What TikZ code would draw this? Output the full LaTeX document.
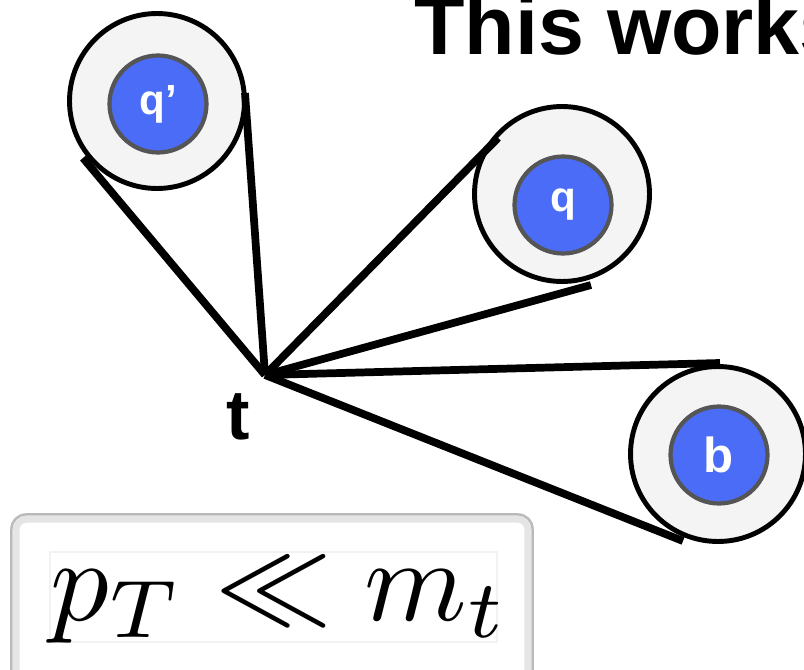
\documentclass[tikz,border=0pt]{standalone}
\usepackage{fontspec}
\setmainfont{Liberation Sans}
\definecolor{coreblue}{RGB}{74,108,246}
\definecolor{ringgray}{RGB}{244,244,244}
\definecolor{edgegray}{RGB}{85,85,85}
\begin{document}
\begin{tikzpicture}[x=0.02cm, y=-0.02cm,
    ring/.style={circle, draw=black, fill=ringgray, line width=2.8pt, minimum size=3.5cm, inner sep=0pt},
    core/.style={circle, draw=edgegray, fill=coreblue, line width=2.4pt, minimum size=1.94cm, inner sep=0pt,
        text=white, font=\bfseries\fontsize{24}{24}\selectfont},
    spoke/.style={line width=4.4pt, line cap=butt}]
    % Frame (pixel units, y downwards)
    \useasboundingbox (0, 0) rectangle (804, 669);
    \clip (0, 0) rectangle (804, 669);

    % Title
    \node[anchor=base west, inner sep=0pt, font=\bfseries\fontsize{47}{47}\selectfont] (title) at (414, 55) {This works};

    % Jets: outer cone ring with parton inside
    \node[ring] (ringqp) at (157, 101) {};
    \node[core] (qp) at (158, 104) {q'};
    \node[ring] (ringq) at (562, 194) {};
    \node[core] (q) at (563, 205) {q};
    \node[ring] (ringb) at (718, 454) {};
    \node[core, font=\bfseries\fontsize{28}{28}\selectfont] (b) at (719, 455) {b};

    % Top vertex and cone edges
    \coordinate (t) at (265, 375);
    \node[font=\bfseries\fontsize{40}{40}\selectfont, inner sep=0pt] (tlab) at (238, 417) {t};
    \coordinate (qpR) at (245, 93);
    \coordinate (qpL) at (83, 158);
    \coordinate (qU) at (498, 138);
    \coordinate (qD) at (591, 285);
    \coordinate (bU) at (720, 363);
    \coordinate (bD) at (683, 541);
    \foreach \e in {qpR, qpL, qU, qD, bU, bD} {
        \draw[spoke] (t) -- (\e);
    }

    % Condition box
    \draw[gray!55, line width=2pt, fill=white, rounded corners=8pt] (12, 515) rectangle (532, 700);
    \draw[gray!20, line width=4pt, rounded corners=6pt] (16, 519) rectangle (528, 700);
    \draw[gray!10, line width=0.6pt] (50, 552) rectangle (497, 642);
    \node[anchor=base west, inner sep=0pt, scale=6.65] (cond) at (48, 620) {$p_T \ll m_t$};
\end{tikzpicture}
\end{document}
